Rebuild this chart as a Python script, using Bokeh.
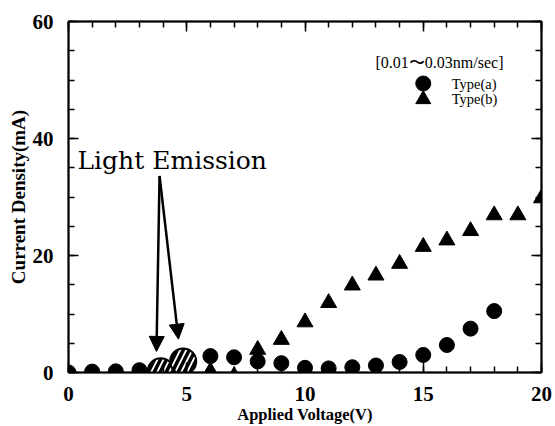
from bokeh.plotting import figure
from bokeh.models import (Range1d, LinearAxis, SingleIntervalTicker, Arrow,
                          NormalHead, Label)
from bokeh.embed import file_html
from bokeh.resources import INLINE

# ---- data ----
voltage_a = [0, 1, 2, 3, 6, 7, 8, 9, 10, 11, 12, 13, 14, 15, 16, 17, 18]
current_a = [0.0, 0.15, 0.2, 0.4, 2.8, 2.6, 1.9, 1.6, 0.8, 0.7, 0.9, 1.2,
             1.8, 3.0, 4.7, 7.5, 10.5]
voltage_b = [6, 7, 8, 9, 10, 11, 12, 13, 14, 15, 16, 17, 18, 19, 20]
current_b = [0.2, -0.6, 3.9, 5.6, 8.6, 11.9, 14.9, 16.6, 18.6, 21.5, 22.6,
             24.2, 26.9, 26.9, 29.8]
emission_v = [3.9, 4.85]
emission_c = [0.2, 1.9]
arrow_start_v = 3.85
arrow_start_c = 33.6
arrow_end_v = [3.72, 4.65]
arrow_end_c = [3.6, 5.7]
legend_labels = ["Type(a)", "Type(b)"]
legend_v = [15.0, 15.0]
legend_c = [49.4, 46.7]
legend_text_v = 16.2
rate_text = "[0.01\u301c0.03nm/sec]"
note_text = "Light Emission"
x_label = "Applied Voltage(V)"
y_label = "Current Density(mA)"

SERIF = "Liberation Serif"

p = figure(width=555, height=426, output_backend="svg", toolbar_location=None,
           x_range=Range1d(0, 20), y_range=Range1d(0, 60),
           min_border_left=68, min_border_right=14, min_border_top=21,
           min_border_bottom=53)
p.xgrid.visible = False
p.ygrid.visible = False
p.outline_line_color = "black"
p.outline_line_width = 1.5
p.background_fill_color = "white"
p.border_fill_color = "white"

def style_axis(ax, labels=True):
    ax.axis_line_width = 2
    ax.axis_line_color = "black"
    ax.major_tick_in = 10
    ax.major_tick_out = 0
    ax.minor_tick_in = 6
    ax.minor_tick_out = 0
    ax.major_tick_line_width = 1.5
    ax.minor_tick_line_width = 1.5
    ax.major_tick_line_color = "black"
    ax.minor_tick_line_color = "black"
    if labels:
        ax.major_label_text_font = SERIF
        ax.major_label_text_font_style = "bold"
        ax.major_label_text_font_size = "21px"
        ax.major_label_text_color = "black"
        ax.axis_label_text_font = SERIF
        ax.axis_label_text_font_style = "bold"
        ax.axis_label_text_color = "black"
    else:
        ax.major_label_text_font_size = "1px"
        ax.major_label_text_color = None
        ax.major_label_standoff = 0

p.xaxis.ticker = SingleIntervalTicker(interval=5, num_minor_ticks=5)
p.yaxis.ticker = SingleIntervalTicker(interval=20, num_minor_ticks=4)
style_axis(p.xaxis[0])
style_axis(p.yaxis[0])
p.xaxis.axis_label = x_label
p.yaxis.axis_label = y_label
p.xaxis.axis_label_text_font_size = "16.5px"
p.yaxis.axis_label_text_font_size = "19px"
p.xaxis.major_label_standoff = 14
p.xaxis.axis_label_standoff = 1
p.yaxis.major_label_standoff = 15
p.yaxis.axis_label_standoff = 1

top = LinearAxis(ticker=SingleIntervalTicker(interval=5, num_minor_ticks=5))
style_axis(top, labels=False)
p.add_layout(top, "above")
right = LinearAxis(ticker=SingleIntervalTicker(interval=20, num_minor_ticks=4))
style_axis(right, labels=False)
p.add_layout(right, "right")

# ---- data marks ----
p.scatter(voltage_b, current_b, marker="triangle", size=16,
          fill_color="black", line_color="black")
p.scatter(voltage_a, current_a, marker="circle", size=15,
          fill_color="black", line_color="black")
p.scatter(emission_v, emission_c, marker="circle", size=26,
          fill_color="white", line_color="black", line_width=2,
          hatch_pattern="/", hatch_color="black", hatch_weight=3.5,
          hatch_scale=12)

# ---- arrows ----
for ev, ec in zip(arrow_end_v, arrow_end_c):
    p.add_layout(Arrow(x_start=arrow_start_v, y_start=arrow_start_c,
                       x_end=ev, y_end=ec, line_width=2.5, line_color="black",
                       end=NormalHead(size=15, fill_color="black",
                                      line_color="black")))

p.add_layout(Label(x=0.38, y=36.3, text=note_text, text_font="DejaVu Serif",
                   text_font_size="25px", text_color="black",
                   text_baseline="alphabetic"))
p.add_layout(Label(x=12.98, y=53.0, text=rate_text, text_font=SERIF,
                   text_font_size="16px", text_color="black",
                   text_baseline="middle"))

# ---- legend ----
p.scatter(legend_v[:1], legend_c[:1], marker="circle", size=15,
          fill_color="black", line_color="black")
p.scatter(legend_v[1:], legend_c[1:], marker="triangle", size=15,
          fill_color="black", line_color="black")
for lab, c in zip(legend_labels, legend_c):
    p.add_layout(Label(x=legend_text_v, y=c, text=lab, text_font=SERIF,
                       text_font_size="14.5px", text_color="black",
                       text_baseline="middle"))

open("out.html", "w").write(file_html(p, INLINE))
